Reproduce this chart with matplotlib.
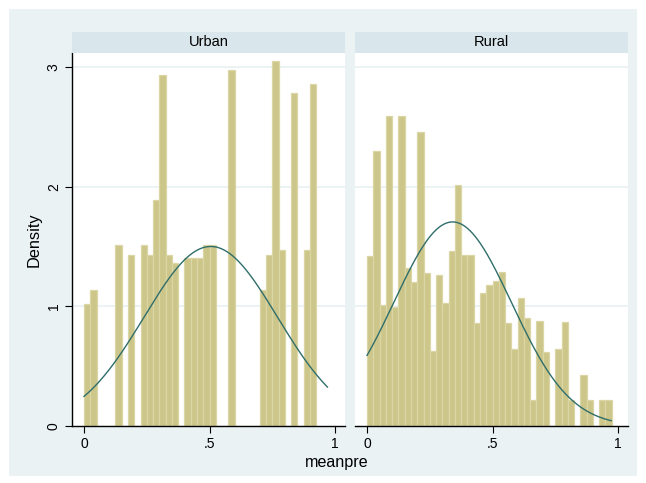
import numpy as np
import matplotlib
matplotlib.use("Agg")
from matplotlib import pyplot as plt
from matplotlib.patches import Rectangle

plt.rcParams['font.family'] = ['Liberation Sans', 'DejaVu Sans']

bin_width = 0.025
# density of meanpre in each bin, bins start at 0
urban_density = [1.02, 1.14, 0, 0, 0, 1.51, 0, 1.43, 0, 1.51,
                 1.43, 1.89, 2.93, 1.43, 1.36, 0, 1.40, 1.40, 1.40, 1.51,
                 1.51, 0, 0, 2.97, 0, 0, 0, 0, 1.14, 1.43,
                 3.05, 1.47, 0, 2.78, 0, 1.47, 2.86]
rural_density = [1.42, 2.30, 1.01, 2.59, 0.99, 2.59, 1.32, 1.20, 2.46, 1.28,
                 0.63, 1.26, 1.03, 1.46, 2.01, 1.43, 1.43, 0.86, 1.11, 1.18,
                 1.21, 1.29, 0.86, 0.64, 1.07, 0.90, 0.22, 0.88, 0.62, 0,
                 0.64, 0.87, 0.22, 0, 0.43, 0.22, 0, 0.22, 0.22]

# normal overlay parameters (mean, sd, min, max)
urban_norm = (0.505, 0.266, 0.0, 0.97)
rural_norm = (0.341, 0.234, 0.0, 0.973)

panels = ["Urban", "Rural"]
x_ticks = [0, 0.5, 1]
x_ticklabels = ["0", ".5", "1"]
y_ticks = [0, 1, 2, 3]

bg = '#EAF2F3'
strip = '#D9E6EB'
bar_face = '#CDC68A'
bar_edge = '#DBD6A6'
line_col = '#2F6E6B'

fig = plt.figure(figsize=(6.46, 4.83), dpi=100)
fig.patches.append(Rectangle((9 / 646, 7 / 483), 628 / 646, 467 / 483,
                             transform=fig.transFigure, facecolor=bg,
                             edgecolor='none', zorder=-10))

lefts = [72 / 646, 355 / 646]
width = 273 / 646
bottom = 1 - 426 / 483
height = (426 - 53) / 483
strip_h = 21 / 483

for i, (name, dens, norm) in enumerate(zip(panels, [urban_density, rural_density],
                                           [urban_norm, rural_norm])):
    ax = fig.add_axes([lefts[i], bottom, width, height])
    ax.set_facecolor('white')
    edges = np.arange(len(dens)) * bin_width
    ax.bar(edges, dens, width=bin_width, align='edge', color=bar_face,
           edgecolor=bar_edge, linewidth=0.9, zorder=2)
    mu, sd, lo, hi = norm
    xs = np.linspace(lo, hi, 200)
    ax.plot(xs, np.exp(-(xs - mu) ** 2 / (2 * sd ** 2)) / (sd * np.sqrt(2 * np.pi)),
            color=line_col, linewidth=1.0, zorder=3)
    ax.set_xlim(-0.048, 1.04)
    ax.set_ylim(0, 3.116)
    for y in [1, 2, 3]:
        ax.axhline(y, color=bg, linewidth=1.3, zorder=1)
    for s in ['top', 'right']:
        ax.spines[s].set_visible(False)
    ax.spines['bottom'].set_linewidth(1.0)
    ax.set_xticks(x_ticks)
    ax.set_xticklabels(x_ticklabels)
    ax.tick_params(axis='x', length=5, width=0.8, labelsize=10, pad=3)
    if i == 0:
        ax.spines['left'].set_linewidth(1.0)
        ax.set_yticks(y_ticks)
        ax.set_yticklabels([str(t) for t in y_ticks], rotation=90, va='center')
        ax.tick_params(axis='y', length=5, width=0.8, labelsize=10, pad=3)
    else:
        ax.spines['left'].set_visible(False)
        ax.set_yticks([])
    # panel title strip
    sax = fig.add_axes([lefts[i], bottom + height, width, strip_h])
    sax.set_facecolor(strip)
    sax.set_xticks([])
    sax.set_yticks([])
    for s in sax.spines.values():
        s.set_visible(False)
    sax.text(0.5, 0.5, name, ha='center', va='center', fontsize=10.5)

fig.text(34 / 646, 1 - 240 / 483, 'Density', rotation=90, ha='center', va='center',
         fontsize=11.8)
fig.text(337 / 646, 1 - 463 / 483, 'meanpre', ha='center', va='center', fontsize=11.6)

fig.savefig('out.png', dpi=100)
